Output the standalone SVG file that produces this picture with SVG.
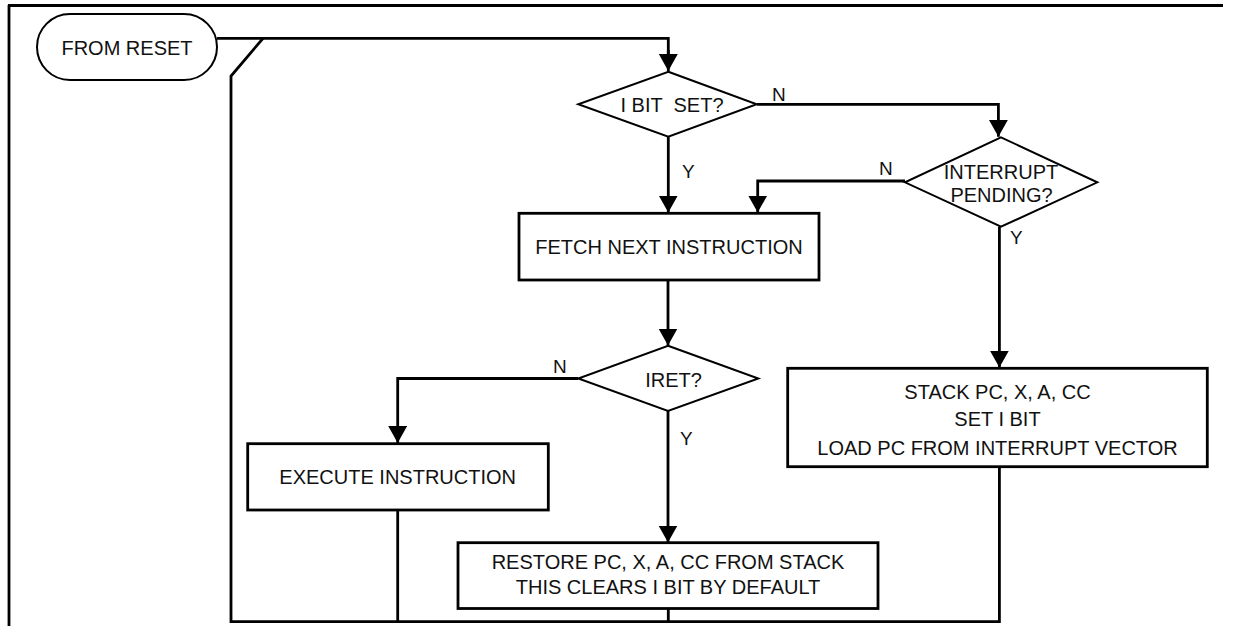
<svg xmlns="http://www.w3.org/2000/svg" width="1234" height="626" viewBox="0 0 1234 626">
<defs>
<style>
.ln{fill:none;stroke:#000;stroke-width:2.8;stroke-linejoin:miter}
.bx{fill:#fff;stroke:#000;stroke-width:2.8}
.dm{fill:#fff;stroke:#000;stroke-width:2}
.tx{font-family:"Liberation Sans",Arial,sans-serif;font-size:20px;fill:#111;text-anchor:middle}
.lb{font-family:"Liberation Sans",Arial,sans-serif;font-size:19px;fill:#111}
</style>
<marker id="ah" markerUnits="userSpaceOnUse" markerWidth="18" markerHeight="20" refX="17" refY="9.5" orient="auto" viewBox="0 0 18 20">
<path d="M0,0 L17,9.5 L0,19 Z" fill="#000"/>
</marker>
</defs>
<rect width="1234" height="626" fill="#fff"/>
<g id="frame">
<path class="ln" d="M8,5.5 H1223 M9,5 V626" stroke-width="2.6"/>
</g>
<g id="connectors">
<path class="ln" d="M217,38.3 H668.3 V55" />
<path class="ln" d="M668.3,50 V71" marker-end="url(#ah)"/>
<path class="ln" d="M999.4,467 V621.6 H231 V76 L263,38.3"/>
<path class="ln" d="M397.7,510 V621.6"/>
<path class="ln" d="M668.3,609 V621.6"/>
<path class="ln" d="M757,104.3 H998.4 V136.8" marker-end="url(#ah)"/>
<path class="ln" d="M668.3,136.7 V212.6" marker-end="url(#ah)"/>
<path class="ln" d="M905,181 H757.7 V212.6" marker-end="url(#ah)"/>
<path class="ln" d="M999.4,226.7 V367.6" marker-end="url(#ah)"/>
<path class="ln" d="M668,280 V345.5" marker-end="url(#ah)"/>
<path class="ln" d="M578.3,378.5 H397.7 V443" marker-end="url(#ah)"/>
<path class="ln" d="M668,411 V542.5" marker-end="url(#ah)"/>
<text class="lb" x="772" y="100.5">N</text>
<text class="lb" x="682" y="178">Y</text>
<text class="lb" x="879" y="175">N</text>
<text class="lb" x="1010" y="243.5">Y</text>
<text class="lb" x="553" y="373">N</text>
<text class="lb" x="680" y="445">Y</text>
</g>
<g id="from-reset">
<rect x="37" y="14" width="180" height="66" rx="33" ry="33" fill="#fff" stroke="#000" stroke-width="2"/>
<text class="tx" x="127" y="55">FROM RESET</text>
</g>
<g id="i-bit-set">
<polygon class="dm" points="668.3,71.7 756.7,104.3 668.3,136.7 578.3,104.3"/>
<text class="tx" x="672" y="112.3" xml:space="preserve">I BIT  SET?</text>
</g>
<g id="interrupt-pending">
<polygon class="dm" points="1001,137.3 1097.3,182.3 1001,226.7 905,182.3"/>
<text class="tx" x="1001" y="179">INTERRUPT</text>
<text class="tx" x="1001.5" y="201.7">PENDING?</text>
</g>
<g id="fetch">
<rect class="bx" x="519" y="213.3" width="300" height="66.7"/>
<text class="tx" x="669" y="254">FETCH NEXT INSTRUCTION</text>
</g>
<g id="iret">
<polygon class="dm" points="668,345.7 758.3,378.5 668,411 578.3,378.5"/>
<text class="tx" x="673.5" y="386.7">IRET?</text>
</g>
<g id="execute">
<rect class="bx" x="247.7" y="443.7" width="300.6" height="66.3"/>
<text class="tx" x="397.7" y="484">EXECUTE INSTRUCTION</text>
</g>
<g id="stack">
<rect class="bx" x="787.7" y="368.3" width="419.6" height="98.4"/>
<text class="tx" x="997.5" y="399">STACK PC, X, A, CC</text>
<text class="tx" x="997.5" y="425.7">SET I BIT</text>
<text class="tx" x="997.5" y="455">LOAD PC FROM INTERRUPT VECTOR</text>
</g>
<g id="restore">
<rect class="bx" x="458" y="542.7" width="420" height="65.8"/>
<text class="tx" x="668" y="569">RESTORE PC, X, A, CC FROM STACK</text>
<text class="tx" x="668" y="593.5">THIS CLEARS I BIT BY DEFAULT</text>
</g>
</svg>
